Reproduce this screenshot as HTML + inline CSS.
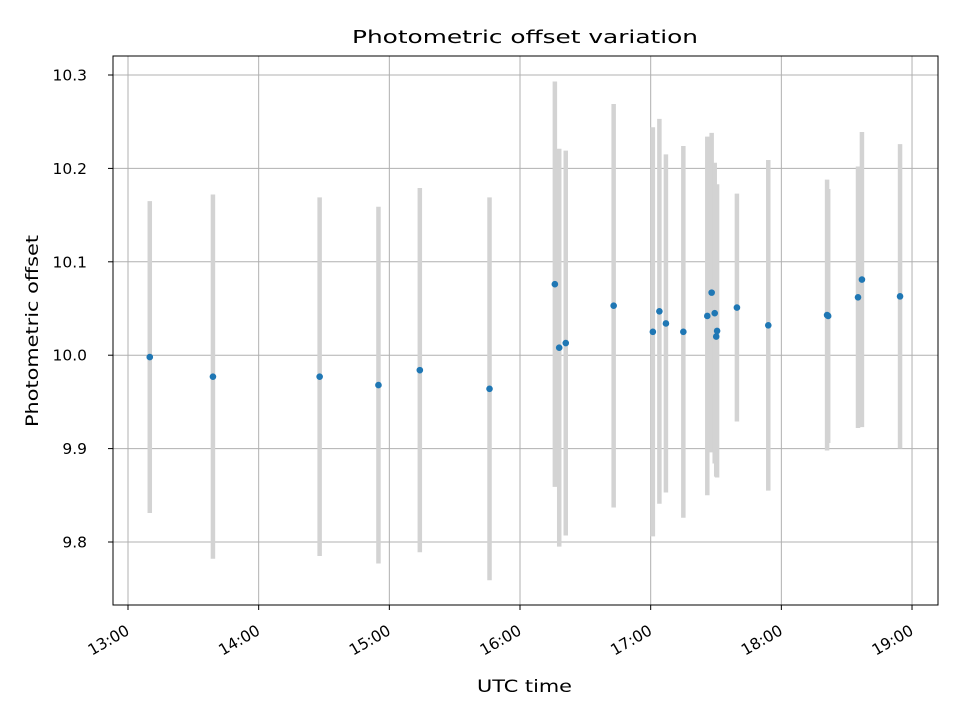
<!DOCTYPE html>
<html><head><meta charset="utf-8"><style>body{margin:0;background:#fff}svg{display:block;font-family:"DejaVu Sans","Liberation Sans",sans-serif}</style></head>
<body>
<svg id="chart" width="960" height="720" viewBox="0 0 960 720" xmlns="http://www.w3.org/2000/svg">
<rect width="960" height="720" fill="#fff"/>
<g id="grid"></g><g id="bars"></g><g id="pts"></g><g id="axes"></g>
<text x="352" y="43" font-size="18" textLength="346" lengthAdjust="spacingAndGlyphs">Photometric offset variation</text>
<text x="477" y="692" font-size="17" textLength="95" lengthAdjust="spacingAndGlyphs">UTC time</text>
<text transform="translate(38,427) rotate(-90)" font-size="17" textLength="192" lengthAdjust="spacingAndGlyphs">Photometric offset</text>
</svg>
<script>
// minutes after 13:00
const times = [10,39,88,115,134,166,196,198,201,223,241,244,247,255,266,268,269.4,270.5,270.1,279.6,294,321,321.5,335.2,337,354.5];
const values = [9.998,9.977,9.977,9.968,9.984,9.964,10.076,10.008,10.013,10.053,10.025,10.047,10.034,10.025,10.042,10.067,10.045,10.026,10.020,10.051,10.032,10.043,10.042,10.062,10.081,10.063];
const errors = [0.167,0.195,0.192,0.191,0.195,0.205,0.217,0.213,0.206,0.216,0.219,0.206,0.181,0.199,0.192,0.171,0.161,0.157,0.150,0.122,0.177,0.145,0.136,0.140,0.158,0.163];
const xTickLabels = ["13:00","14:00","15:00","16:00","17:00","18:00","19:00"];
const yTicks = [9.8,9.9,10.0,10.1,10.2,10.3];
const yTickLabels = ["9.8","9.9","10.0","10.1","10.2","10.3"];

const L=113,R=938,T=56,B=605;
const xs = m => 128 + m/60*130.67;
const ys = v => 75 + (10.3 - v)*934;
const NS="http://www.w3.org/2000/svg";
function mk(tag, attrs, parent){const e=document.createElementNS(NS,tag);for(const k in attrs)e.setAttribute(k,attrs[k]);parent.appendChild(e);return e;}
const grid=document.getElementById('grid'),bars=document.getElementById('bars'),pts=document.getElementById('pts'),axes=document.getElementById('axes');

xTickLabels.forEach((lab,i)=>{
  const x=xs(i*60);
  const g=mk('line',{x1:x,x2:x,y1:T,y2:B,stroke:'#b0b0b0','stroke-width':1},grid);
  
  
  const t=mk('line',{x1:x,x2:x,y1:B,y2:B+5,stroke:'#000','stroke-width':1},axes);
  
  
  const tx=mk('text',{transform:`translate(${x-3},${B+19}) rotate(-30)`,x:0,y:11,'font-size':15.5,'text-anchor':'end'},axes);
  tx.textContent=lab;
  
  
});
yTicks.forEach((v,i)=>{
  const y=ys(v);
  const g=mk('line',{x1:L,x2:R,y1:y,y2:y,stroke:'#b0b0b0','stroke-width':1},grid);
  
  
  const t=mk('line',{x1:L-5,x2:L,y1:y,y2:y,stroke:'#000','stroke-width':1},axes);
  
  
  const tx=mk('text',{x:L-26,y:y+5.5,'font-size':15.5,'text-anchor':'end'},axes);
  tx.setAttribute('x',L-26+0);
  tx.setAttribute('x',87);
  tx.textContent=yTickLabels[i];
  
  
});
times.forEach((m,i)=>{
  const x=xs(m);
  const b=mk('line',{x1:x,x2:x,y1:ys(values[i]+errors[i]),y2:ys(values[i]-errors[i]),stroke:'#d3d3d3','stroke-width':4.5},bars);
  
  
  const c=mk('circle',{cx:x,cy:ys(values[i]),r:3.3,fill:'#1f77b4'},pts);
  
  
});
const f=mk('rect',{x:L,y:T,width:R-L,height:B-T,fill:'none',stroke:'#000','stroke-width':1},axes);


</script>
</body></html>
